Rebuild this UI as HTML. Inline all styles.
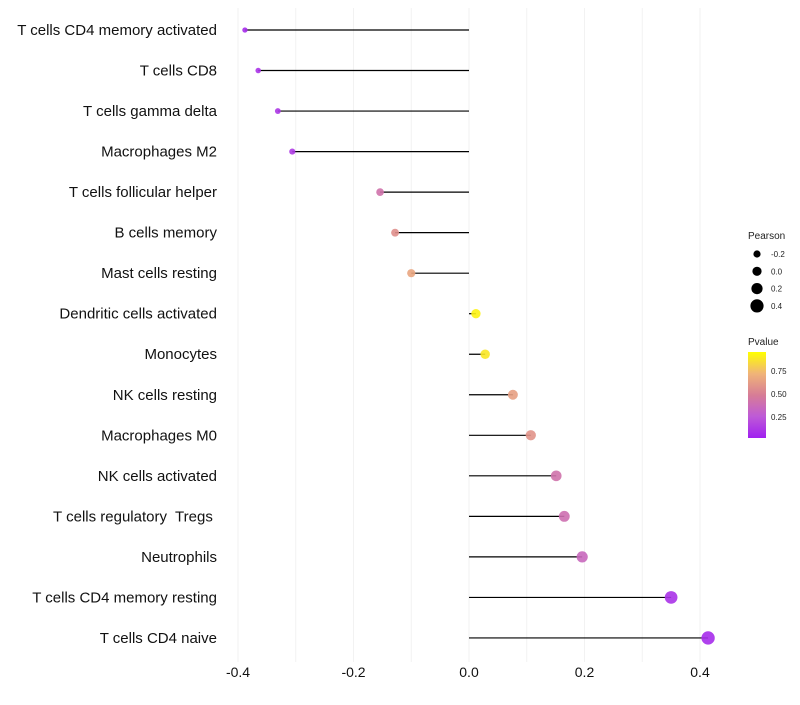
<!DOCTYPE html>
<html><head><meta charset="utf-8"><style>
body{margin:0;background:#fff;font-family:"Liberation Sans",sans-serif}
</style></head><body>
<svg id="chart" width="800" height="700"></svg>
<script>
const categories=["T cells CD4 memory activated","T cells CD8","T cells gamma delta","Macrophages M2","T cells follicular helper","B cells memory","Mast cells resting","Dendritic cells activated","Monocytes","NK cells resting","Macrophages M0","NK cells activated","T cells regulatory\u00a0 Tregs\u00a0","Neutrophils","T cells CD4 memory resting","T cells CD4 naive"];
const pearson=[-0.388,-0.365,-0.331,-0.306,-0.154,-0.128,-0.100,0.012,0.028,0.076,0.107,0.151,0.165,0.196,0.350,0.414];
const pvalues=[0.05,0.08,0.10,0.12,0.42,0.58,0.68,0.96,0.92,0.66,0.6,0.42,0.4,0.35,0.08,0.05];
const xTicks=[-0.4,-0.2,0.0,0.2,0.4];
const gridVals=[-0.4,-0.3,-0.2,-0.1,0,0.1,0.2,0.3,0.4];
const sizeLegend=[-0.2,0.0,0.2,0.4];
const colorTicks=[0.25,0.50,0.75];
const NS="http://www.w3.org/2000/svg";
const svg=document.getElementById('chart');
function X(v){return 469+v*577.5;}
function Y(i){return 30+i*40.53;}
function R(v){return 4.6+5*v;}
const stops=[[0,[160,32,240]],[0.25,[190,90,215]],[0.5,[215,125,150]],[0.75,[240,180,120]],[1,[255,255,0]]];
function col(p){for(let k=1;k<stops.length;k++){if(p<=stops[k][0]){const a=stops[k-1],b=stops[k];const t=(p-a[0])/(b[0]-a[0]);const c=a[1].map((x,j)=>Math.round(x+(b[1][j]-x)*t));return `rgb(${c})`;}}return 'rgb(255,255,0)';}
function el(t,a,txt){const e=document.createElementNS(NS,t);for(const k in a)e.setAttribute(k,a[k]);if(txt!==undefined)e.textContent=txt;svg.appendChild(e);return e;}
gridVals.forEach(v=>{const g=el('line',{x1:X(v),x2:X(v),y1:8,y2:662,stroke:'#f2f2f2','stroke-width':1});

});
xTicks.forEach(v=>{const t=el('text',{x:X(v),y:677,'font-size':14,'text-anchor':'middle',fill:'#111'},v.toFixed(1));

});
categories.forEach((c,i)=>{
const y=Y(i);
const t=el('text',{x:217,y:y+5,'font-size':15,'text-anchor':'end',fill:'#111'},c);


const l=el('line',{x1:X(0),x2:X(pearson[i]),y1:y,y2:y,stroke:'#000','stroke-width':1.2});


const p=el('circle',{cx:X(pearson[i]),cy:y,r:R(pearson[i]),fill:col(pvalues[i]),'fill-opacity':0.9});


});
const lt=el('text',{x:748,y:239,'font-size':10,fill:'#222'},'Pearson');


sizeLegend.forEach((v,k)=>{const y=254+k*17.3;
const c=el('circle',{cx:757,cy:y,r:R(v),fill:'#000'});


const t=el('text',{x:771,y:y+3,'font-size':8,fill:'#222'},v.toFixed(1));

});
const ct=el('text',{x:748,y:345,'font-size':10,fill:'#222'},'Pvalue');


const defs=el('defs',{});const lg=document.createElementNS(NS,'linearGradient');lg.setAttribute('id','pg');lg.setAttribute('x1','0');lg.setAttribute('y1','1');lg.setAttribute('x2','0');lg.setAttribute('y2','0');defs.appendChild(lg);
stops.forEach(s=>{const st=document.createElementNS(NS,'stop');st.setAttribute('offset',s[0]);st.setAttribute('stop-color',`rgb(${s[1]})`);lg.appendChild(st);});
const bar=el('rect',{x:748,y:352,width:18,height:86,fill:'url(#pg)'});


function PY(p){return 440-p*92;}
colorTicks.forEach(v=>{const t=el('text',{x:771,y:PY(v)+3,'font-size':8,fill:'#222'},v.toFixed(2));

});
</script>
</body></html>
